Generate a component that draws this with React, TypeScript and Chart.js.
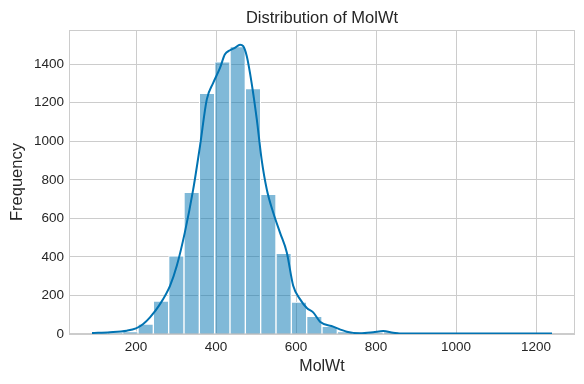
import React, { useEffect, useRef } from "react";
import { Chart, registerables } from "chart.js";

Chart.register(...registerables);

// Histogram bin centers (MolWt), 30 bins from 90 to 1240
const binCenters = [
  109.2, 147.5, 185.8, 224.2, 262.5, 300.8, 339.2, 377.5, 415.8, 454.2,
  492.5, 530.8, 569.2, 607.5, 645.8, 684.2, 722.5, 760.8, 799.2, 837.5,
  875.8, 914.2, 952.5, 990.8, 1029.2, 1067.5, 1105.8, 1144.2, 1182.5, 1220.8,
];
const binCounts = [
  2, 4, 12, 52, 171, 405, 735, 1248, 1412, 1491,
  1273, 725, 418, 166, 92, 40, 12, 6, 8, 10,
  4, 2, 1, 1, 1, 1, 0, 1, 0, 1,
];

// KDE curve (scaled to counts)
const kdeX = [
  90, 135, 177, 200, 218, 235, 260, 285, 302, 322, 343, 360, 377, 393, 410,
  422, 435, 447, 460, 468, 477, 489, 502, 514, 527, 543, 560, 577, 593, 610,
  627, 643, 660, 693, 727, 760, 793, 818, 843, 868, 950, 1050, 1150, 1240,
];
const kdeY = [
  5, 9, 17, 29, 52, 86, 155, 250, 354, 526, 750, 975, 1217, 1303, 1380,
  1450, 1472, 1484, 1501, 1493, 1441, 1303, 1113, 906, 750, 630, 526, 423, 250, 181,
  135, 112, 64, 38, 12, 4, 9, 15, 7, 2, 2, 2, 2, 2,
];

const xTicks = [200, 400, 600, 800, 1000, 1200];
const yTicks = [0, 200, 400, 600, 800, 1000, 1200, 1400];

const TITLE = "Distribution of MolWt";
const X_LABEL = "MolWt";
const Y_LABEL = "Frequency";

const FONT = "'Liberation Sans', Arial, sans-serif";
const TEXT = "#262626";
const GRID = "#cccccc";
const BLUE = "#0173b2";

export default function App() {
  const ref = useRef<HTMLCanvasElement | null>(null);

  useEffect(() => {
    document.body.style.margin = "0";
    const canvas = ref.current;
    if (!canvas) return;

    const framePlugin = {
      id: "frame",
      beforeDatasetsDraw(chart: any) {
        const { ctx, chartArea } = chart;
        ctx.save();
        ctx.strokeStyle = GRID;
        ctx.lineWidth = 1;
        ctx.strokeRect(
          Math.round(chartArea.left) + 0.5,
          Math.round(chartArea.top) + 0.5,
          Math.round(chartArea.right - chartArea.left) - 1,
          Math.round(chartArea.bottom - chartArea.top) - 1
        );
        ctx.restore();
      },
      afterDraw(chart: any) {
        const { ctx, chartArea } = chart;
        ctx.save();
        ctx.fillStyle = TEXT;
        ctx.font = `16.5px ${FONT}`;
        ctx.textAlign = "center";
        ctx.textBaseline = "alphabetic";
        ctx.fillText(TITLE, (chartArea.left + chartArea.right) / 2, 22.7);
        ctx.restore();
      },
    };

    const chart = new Chart(canvas, {
      type: "bar",
      data: {
        datasets: [
          {
            type: "line",
            label: "kde",
            data: kdeX.map((x, i) => ({ x, y: kdeY[i] })),
            borderColor: BLUE,
            borderWidth: 2,
            pointRadius: 0,
            fill: false,
            cubicInterpolationMode: "monotone",
            order: 0,
          } as any,
          {
            type: "bar",
            label: "count",
            data: binCenters.map((x, i) => ({ x, y: binCounts[i] })),
            backgroundColor: "rgba(1,115,178,0.5)",
            borderColor: "#ffffff",
            borderWidth: 1,
            barPercentage: 1,
            categoryPercentage: 1,
            order: 1,
          } as any,
        ],
      },
      options: {
        animation: false,
        responsive: false,
        maintainAspectRatio: false,
        layout: { padding: { top: 30, right: 9, left: 0, bottom: 0 } },
        plugins: {
          legend: { display: false },
          tooltip: { enabled: false },
          title: { display: false },
        },
        scales: {
          x: {
            type: "linear",
            offset: false,
            min: 32.5,
            max: 1297.5,
            afterBuildTicks: (s: any) => {
              s.ticks = xTicks.map((v) => ({ value: v }));
            },
            afterFit: (s: any) => {
              s.height = 50;
            },
            grid: { color: GRID, lineWidth: 1, drawTicks: false, offset: false },
            border: { display: false },
            ticks: {
              color: TEXT,
              font: { family: FONT, size: 13.5 },
              padding: 5,
              maxRotation: 0,
              autoSkip: false,
              callback: (v: any) => String(v),
            },
            title: {
              display: true,
              text: X_LABEL,
              color: TEXT,
              font: { family: FONT, size: 16 },
              padding: { top: 0, bottom: 8 },
            },
          },
          y: {
            type: "linear",
            min: 0,
            max: 1577,
            afterBuildTicks: (s: any) => {
              s.ticks = yTicks.map((v) => ({ value: v }));
            },
            afterFit: (s: any) => {
              s.width = 69;
            },
            grid: { color: GRID, lineWidth: 1, drawTicks: false },
            border: { display: false },
            ticks: {
              color: TEXT,
              font: { family: FONT, size: 13.5 },
              padding: 5,
              autoSkip: false,
              callback: (v: any) => String(v),
            },
            title: {
              display: true,
              text: Y_LABEL,
              color: TEXT,
              font: { family: FONT, size: 16.5 },
              padding: { top: 8, bottom: 0 },
            },
          },
        },
      },
      plugins: [framePlugin],
    } as any);

    return () => chart.destroy();
  }, []);

  return (
    <div style={{ position: "fixed", left: 0, top: 0, width: 584, height: 384, background: "#fff" }}>
      <canvas ref={ref} width={584} height={384} style={{ width: 584, height: 384 }} />
    </div>
  );
}
